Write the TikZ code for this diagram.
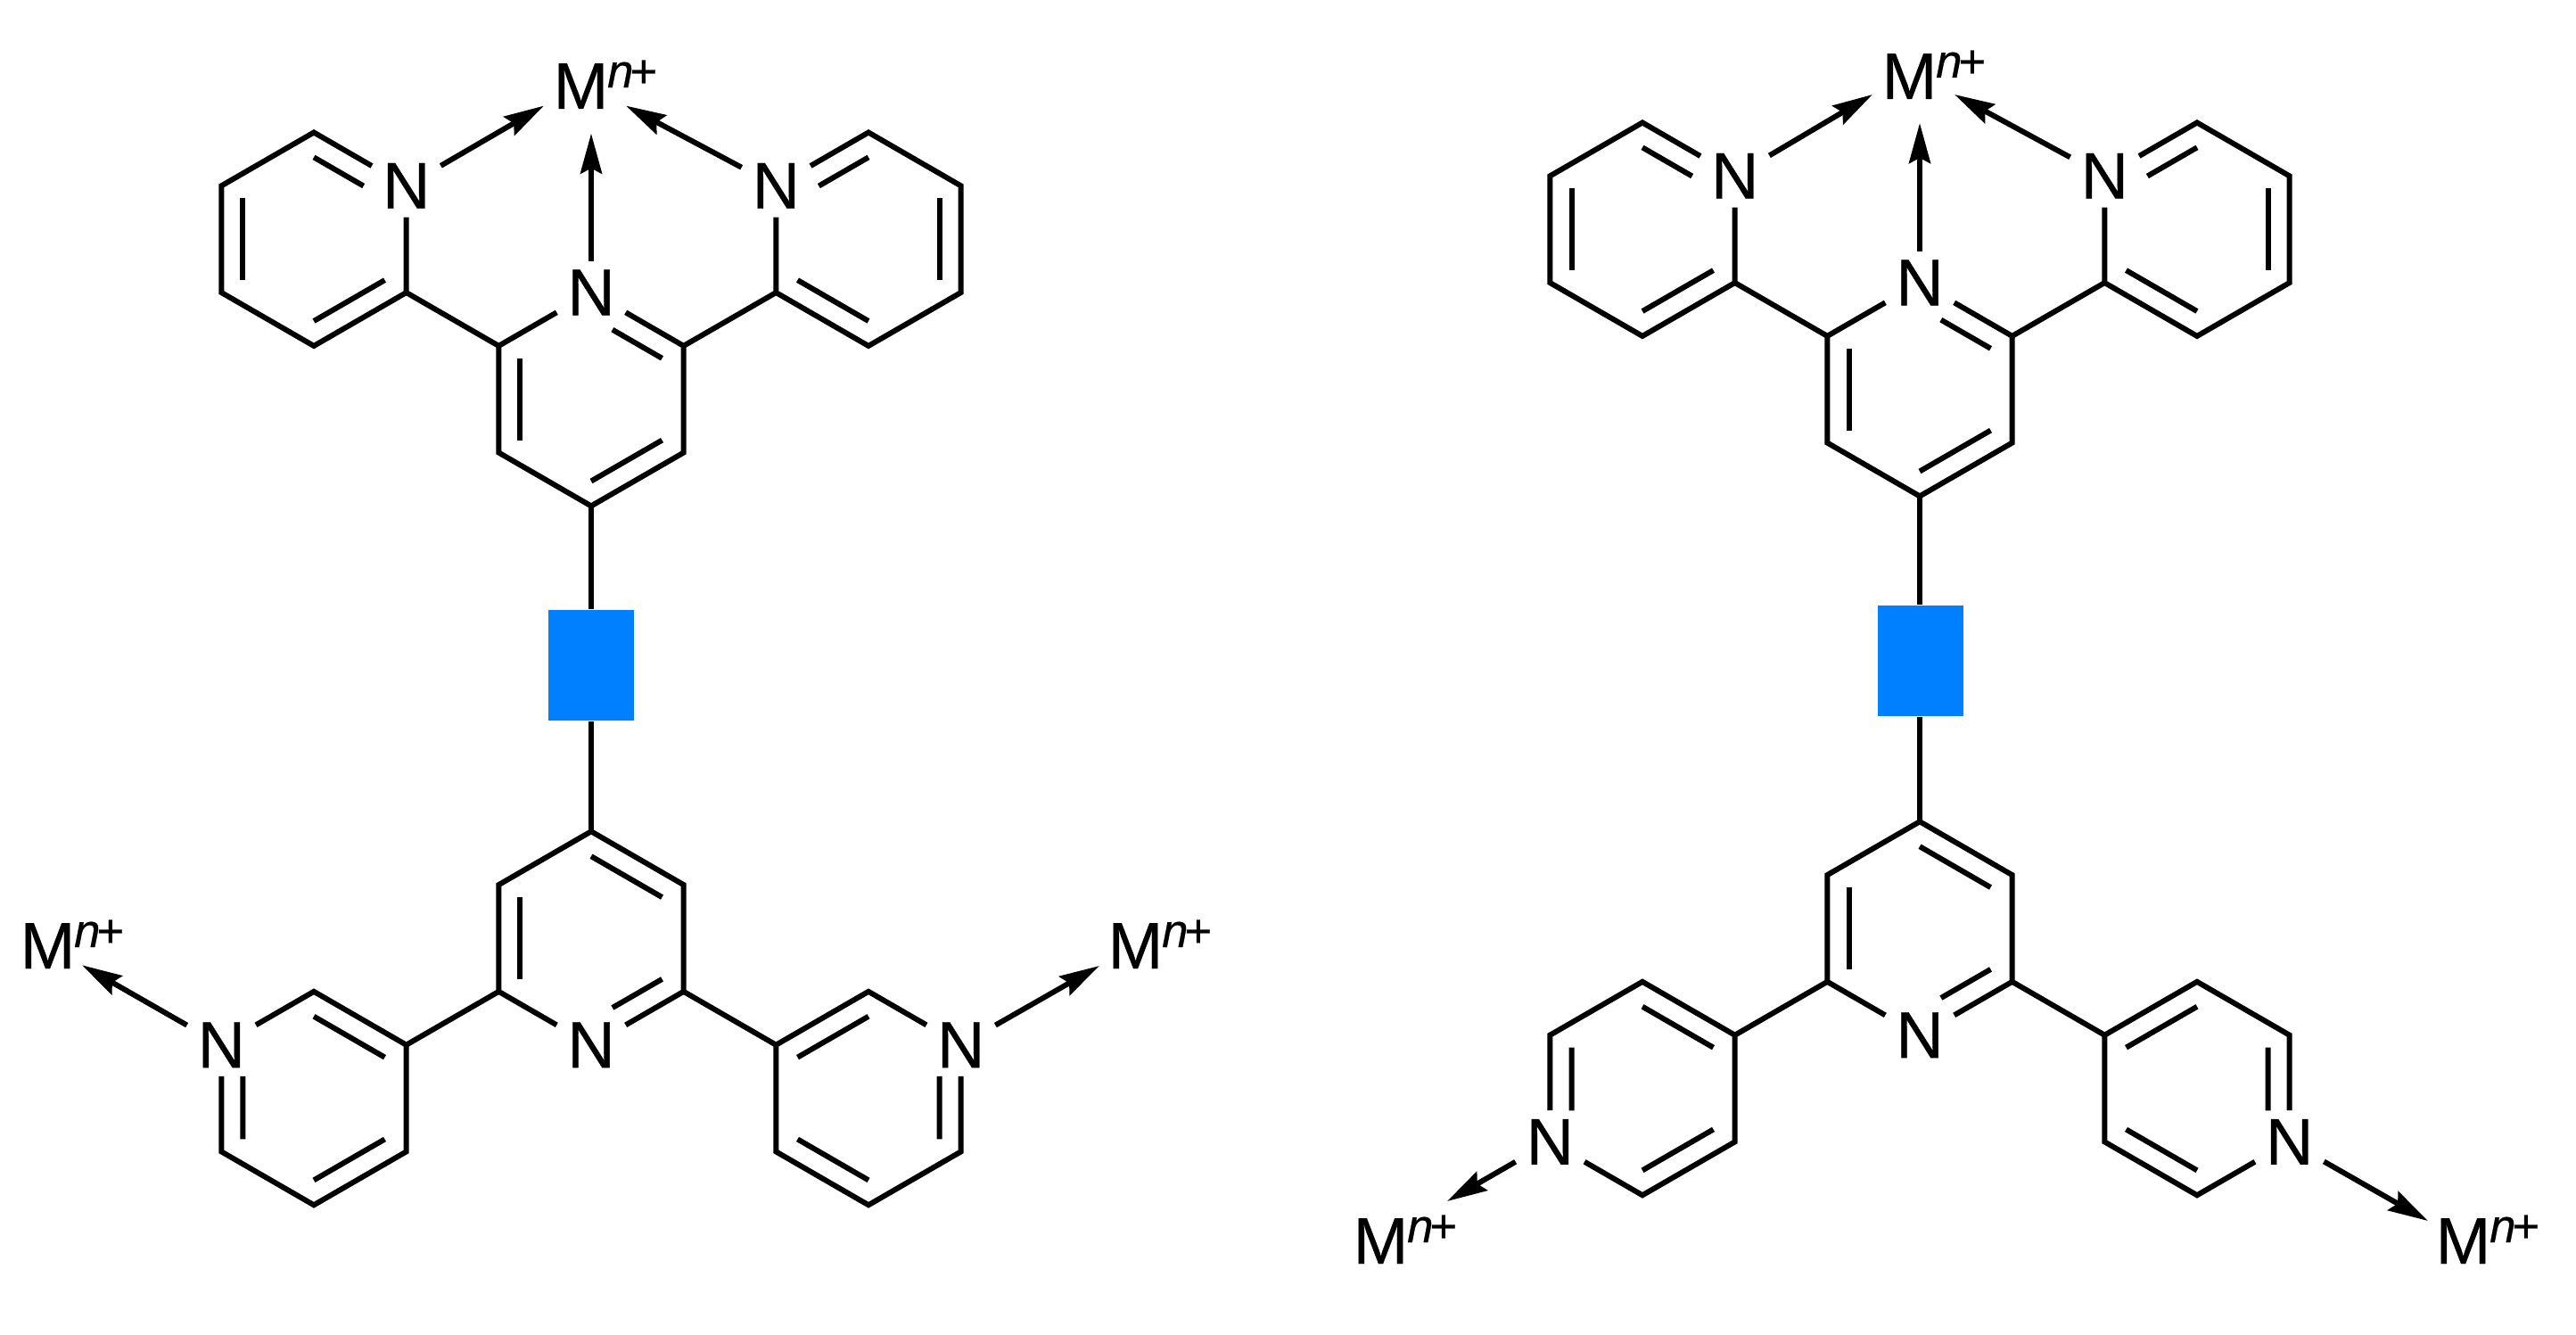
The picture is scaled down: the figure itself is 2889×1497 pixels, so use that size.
\documentclass[tikz,border=0pt]{standalone}
\usepackage{fontspec}
\setmainfont{Liberation Sans}[FakeBold=.45]
\usepackage{xcolor}
\usetikzlibrary{arrows.meta,calc}
\definecolor{spacerblue}{RGB}{0,128,255}
\tikzset{%
	atom/.style     = {rectangle, inner sep=0pt, minimum width=7.6mm, minimum height=6.9mm, font=\fontsize{21pt}{21pt}\selectfont}, % N in a ring
	metal/.style    = {inner sep=0pt, anchor=base west, font=\fontsize{21pt}{21pt}\selectfont},
	spacer/.style   = {rectangle, fill=spacerblue, inner sep=0pt, minimum width=9.6mm, minimum height=12.4mm},
	bond/.style     = {line width=.6mm, line join=miter},
	dative/.style   = {line width=.6mm, -{Stealth[length=4.5mm,width=2.4mm,inset=.6mm]}},
}
\newcommand{\mion}{M\raisebox{2.4mm}{\fontsize{15pt}{15pt}\selectfont\kern-.1mm\textit{n}\kern-.4mm+}}
% name, centre x, centre y, angle of N, C with the double bond to N; [length of that inner line]
\newcommand{\pyridine}[6][.7]{%
	\coordinate (#2) at (#3,#4);
	\node[atom] (#2n) at ($(#2)+(#5:119.7)$) {N};
	\foreach \k in {1,...,5}
		\coordinate (#2\k) at ($(#2)+({#5+\k*60}:119.7)$);
	\draw[bond] (#2n) -- (#21) -- (#22) -- (#23) -- (#24) -- (#25) -- (#2n);
	\ifnum#6=1 \def\pairs{2/3,4/5}\else \def\pairs{1/2,3/4}\fi
	\foreach \u/\v in \pairs
		\draw[bond] ($(#2)!.767!(#2\u)$) -- ($(#2)!.767!(#2\v)$);
	\draw[bond] ($(#2)!.767!(#2#6)$) -- ($($(#2)!.767!(#2#6)$)!#1!($(#2)!.767!(#2n)$)$);
}
\begin{document}
\begin{tikzpicture}[x=.1mm,y=-.1mm]
	\useasboundingbox (0,0) rectangle (2889,1497);
	% left molecule
	\pyridine{LC}{663}{447.7}{-90}{1}
	\pyridine{LT}{352}{268.2}{-30}{5}
	\pyridine{LR}{974}{268.2}{-150}{1}
	\pyridine{LB}{663}{1052}{90}{5}
	\pyridine[.77]{LP}{352}{1231.55}{-150}{5}
	\pyridine[.77]{LQ}{974}{1231.55}{-30}{1}
	\node[spacer] (Lbox) at (663,746) {};
	\draw[bond] (LT1) -- (LC5);
	\draw[bond] (LR5) -- (LC1);
	\draw[bond] (LC3) -- (Lbox) -- (LB3);
	\draw[bond] (LP2) -- (LB1);
	\draw[bond] (LQ4) -- (LB5);
	\node[metal] (Lm1) at (620,122) {\mion};
	\node[metal] (Lm2) at (22,1086) {\mion};
	\node[metal] (Lm3) at (1242,1086) {\mion};
	\coordinate (Lt1) at (610,118.6);
	\coordinate (Lt2) at (663,149.6);
	\coordinate (Lt3) at (702,118.6);
	\coordinate (Lt4) at (92,1082.3);
	\coordinate (Lt5) at (1233,1083);
	\draw[dative] (LTn) -- (Lt1);
	\draw[dative] (LCn) -- (Lt2);
	\draw[dative] (LRn) -- (Lt3);
	\draw[dative] (LPn) -- (Lt4);
	\draw[dative] (LQn) -- (Lt5);
	% right molecule
	\pyridine{RC}{2153}{436.7}{-90}{1}
	\pyridine{RT}{1842}{257.2}{-30}{5}
	\pyridine{RR}{2464}{257.2}{-150}{1}
	\pyridine{RB}{2153}{1041}{90}{5}
	\pyridine[.77]{RP}{1842}{1220.55}{150}{1}
	\pyridine[.77]{RQ}{2464}{1220.55}{30}{5}
	\node[spacer] (Rbox) at (2154,741) {};
	\draw[bond] (RT1) -- (RC5);
	\draw[bond] (RR5) -- (RC1);
	\draw[bond] (RC3) -- (RC3 |- Rbox.north);
	\draw[bond] (RB3) -- (RB3 |- Rbox.south);
	\draw[bond] (RP3) -- (RB1);
	\draw[bond] (RQ3) -- (RB5);
	\node[metal] (Rm1) at (2110,111) {\mion};
	\node[metal] (Rm2) at (1517,1417) {\mion};
	\node[metal] (Rm3) at (2731,1417) {\mion};
	\coordinate (Rt1) at (2100,106);
	\coordinate (Rt2) at (2153,138);
	\coordinate (Rt3) at (2192,106);
	\coordinate (Rt4) at (1623,1347);
	\coordinate (Rt5) at (2723,1369);
	\draw[dative] (RTn) -- (Rt1);
	\draw[dative] (RCn) -- (Rt2);
	\draw[dative] (RRn) -- (Rt3);
	\draw[dative] (RPn) -- (Rt4);
	\draw[dative] (RQn) -- (Rt5);
\end{tikzpicture}
\end{document}
